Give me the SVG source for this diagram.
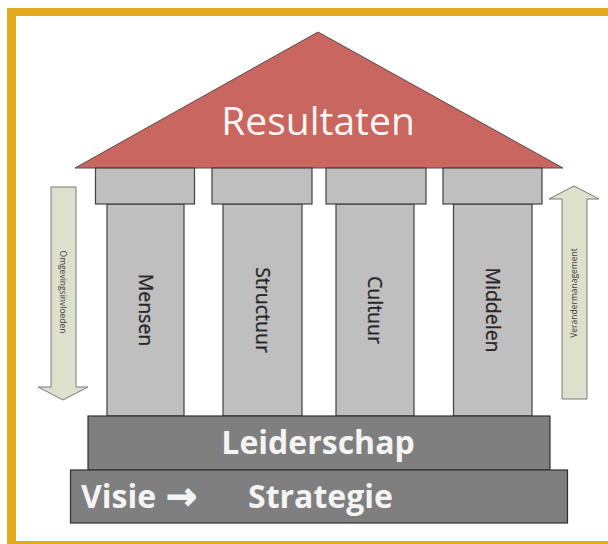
<svg xmlns="http://www.w3.org/2000/svg" width="608" height="544" viewBox="0 0 608 544">
  <style>
    .frame { fill: #E3AC1E; }
    .roof { fill: #C8665F; stroke: #5a4a48; stroke-width: 1; }
    .pillar { fill: #BFBFBF; stroke: #404040; stroke-width: 1.2; }
    .base { fill: #7F7F7F; stroke: #303030; stroke-width: 1.2; }
    .barrow { fill: #DDE1CB; stroke: #7a7a7a; stroke-width: 1; }
    .roofText { font-family: "Open Sans", "Liberation Sans", sans-serif; font-size: 39px; fill: #FDF6F2; text-anchor: middle; }
    .pillarText { font-family: "Open Sans", "Liberation Sans", sans-serif; font-size: 19.5px; fill: #262626; text-anchor: middle; stroke: #262626; stroke-width: 0.3; }
    .baseText { font-family: "Open Sans", "Liberation Sans", sans-serif; font-size: 32px; font-weight: bold; fill: #F4F4F4; }
    .arrowGlyph { font-family: "DejaVu Sans", sans-serif; font-size: 37px; font-weight: bold; fill: #F4F4F4; stroke: #F4F4F4; stroke-width: 1.2; }
    .smallText { font-family: "Open Sans", "Liberation Sans", sans-serif; font-size: 8.5px; fill: #3a3a3a; text-anchor: middle; }
  </style>
  <rect x="0" y="0" width="608" height="544" fill="#FFFFFF"/>
  <g id="frame">
    <rect class="frame" x="7" y="8" width="601" height="8"/>
    <rect class="frame" x="7" y="8" width="9" height="536"/>
    <rect class="frame" x="7" y="541" width="601" height="3"/>
  </g>
  <g id="roof">
    <polygon class="roof" points="318,32 563,168 75,168"/>
    <text class="roofText" x="318" y="135">Resultaten</text>
  </g>
  <g id="pillar-mensen">
    <rect class="pillar" x="107" y="204" width="77" height="212"/>
    <rect class="pillar" x="95.5" y="168" width="99" height="36"/>
    <text class="pillarText" transform="translate(145.5,310) rotate(90)" x="0" y="7">Mensen</text>
  </g>
  <g id="pillar-structuur">
    <rect class="pillar" x="223" y="204" width="79" height="212"/>
    <rect class="pillar" x="212" y="168" width="100" height="36"/>
    <text class="pillarText" transform="translate(262.5,310) rotate(90)" x="0" y="7">Structuur</text>
  </g>
  <g id="pillar-cultuur">
    <rect class="pillar" x="336" y="204" width="78" height="212"/>
    <rect class="pillar" x="326" y="168" width="100" height="36"/>
    <text class="pillarText" transform="translate(375,310) rotate(90)" x="0" y="7">Cultuur</text>
  </g>
  <g id="pillar-middelen">
    <rect class="pillar" x="453.5" y="204" width="78.5" height="212"/>
    <rect class="pillar" x="443" y="168" width="99" height="36"/>
    <text class="pillarText" transform="translate(493,310) rotate(90)" x="0" y="7">Middelen</text>
  </g>
  <g id="leiderschap">
    <rect class="base" x="88" y="416" width="462" height="54"/>
    <text class="baseText" x="318" y="454" text-anchor="middle">Leiderschap</text>
  </g>
  <g id="visie-strategie">
    <rect class="base" x="70.5" y="470" width="497" height="53"/>
    <text class="baseText" x="81" y="508">Visie</text>
    <text class="arrowGlyph" x="166" y="509">→</text>
    <text class="baseText" x="248" y="508">Strategie</text>
  </g>
  <g id="omgevingsinvloeden">
    <polygon class="barrow" points="51,187 76,187 76,387 88,387 63,400 38,387 51,387"/>
    <text class="smallText" transform="translate(63,292) rotate(90)" x="0" y="3">Omgevingsinvloeden</text>
  </g>
  <g id="verandermanagement">
    <polygon class="barrow" points="574,186 599,199 587,199 587,399 562,399 562,199 549,199"/>
    <text class="smallText" transform="translate(574,293) rotate(-90)" x="0" y="3">Verandermanagement</text>
  </g>
  <g id="connectors"></g>
</svg>
